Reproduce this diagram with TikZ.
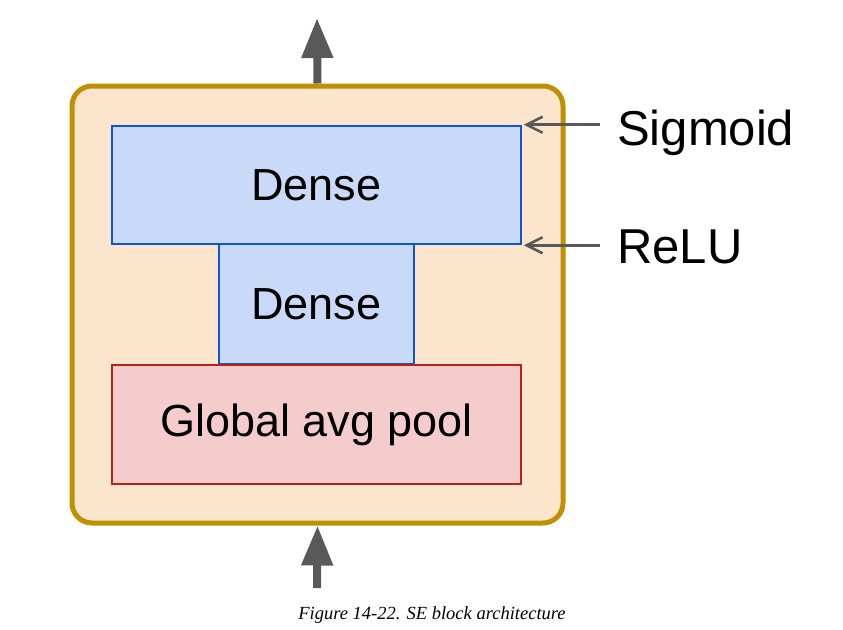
\documentclass[tikz,border=0pt]{standalone}
\usepackage{fontspec}
\setmainfont{Liberation Sans}
\newfontfamily\captionserif{Liberation Serif}
\usetikzlibrary{arrows.meta}

\definecolor{blockfill}{HTML}{FCE5CD}
\definecolor{blockline}{HTML}{BF9000}
\definecolor{densefill}{HTML}{C9DAF8}
\definecolor{denseline}{HTML}{1155CC}
\definecolor{poolfill}{HTML}{F4CCCC}
\definecolor{poolline}{HTML}{B7231A}
\definecolor{arrowgray}{HTML}{595959}

\tikzset{
  seblock/.style={draw=blockline, fill=blockfill, line width=5pt,
    rounded corners=20pt, minimum width=491pt, minimum height=437pt, inner sep=0pt},
  layerbox/.style={line width=2.6pt, inner sep=0pt, font=\fontsize{45}{54}\selectfont},
  denselayer/.style={layerbox, draw=denseline, fill=densefill},
  poollayer/.style={layerbox, draw=poolline, fill=poolfill},
  flow/.style={draw=arrowgray, line width=8pt,
    -{Triangle[width=30pt, length=40pt]}, arrowgray},
  pointer/.style={draw=arrowgray, line width=2.5pt,
    -{Straight Barb[length=16pt, width=16pt, line width=2.5pt]}},
  actlabel/.style={anchor=base west, inner sep=0pt, font=\fontsize{49}{58}\selectfont},
}

\begin{document}
\begin{tikzpicture}[x=1pt, y=-1pt]
  \useasboundingbox (0,0) rectangle (843,629);

  % squeeze-and-excitation block
  \node[seblock] (se) at (317.5,304.5) {};

  % layers inside the block
  \node[denselayer, minimum width=195pt, minimum height=120pt] (dense2) at (316.5,304) {Dense};
  \node[denselayer, minimum width=409pt, minimum height=118pt] (dense1) at (316.5,185) {Dense};
  \node[poollayer, minimum width=409pt, minimum height=119pt] (pool) at (316.5,424.5) {Global avg pool};

  % input and output arrows
  \coordinate (in) at (317,588);
  \coordinate (out) at (317,18);
  \draw[flow] (in) -- (se.south);
  \draw[flow] (se.north) -- (out);

  % activation labels
  \node[actlabel] (sigmoid) at (617,145) {Sigmoid};
  \node[actlabel] (relu) at (617,263) {ReLU};
  \draw[pointer] ([xshift=-17pt]sigmoid.west |- dense1.north east) -- ([xshift=1.5pt]dense1.north east);
  \draw[pointer] ([xshift=-17pt]relu.west |- dense1.south east) -- ([xshift=1.5pt]dense1.south east);

  % caption
  \node[anchor=base, inner sep=0pt, font=\captionserif\itshape\fontsize{18.5}{22}\selectfont]
    (caption) at (432,619) {Figure 14-22. SE block architecture};
\end{tikzpicture}
\end{document}
